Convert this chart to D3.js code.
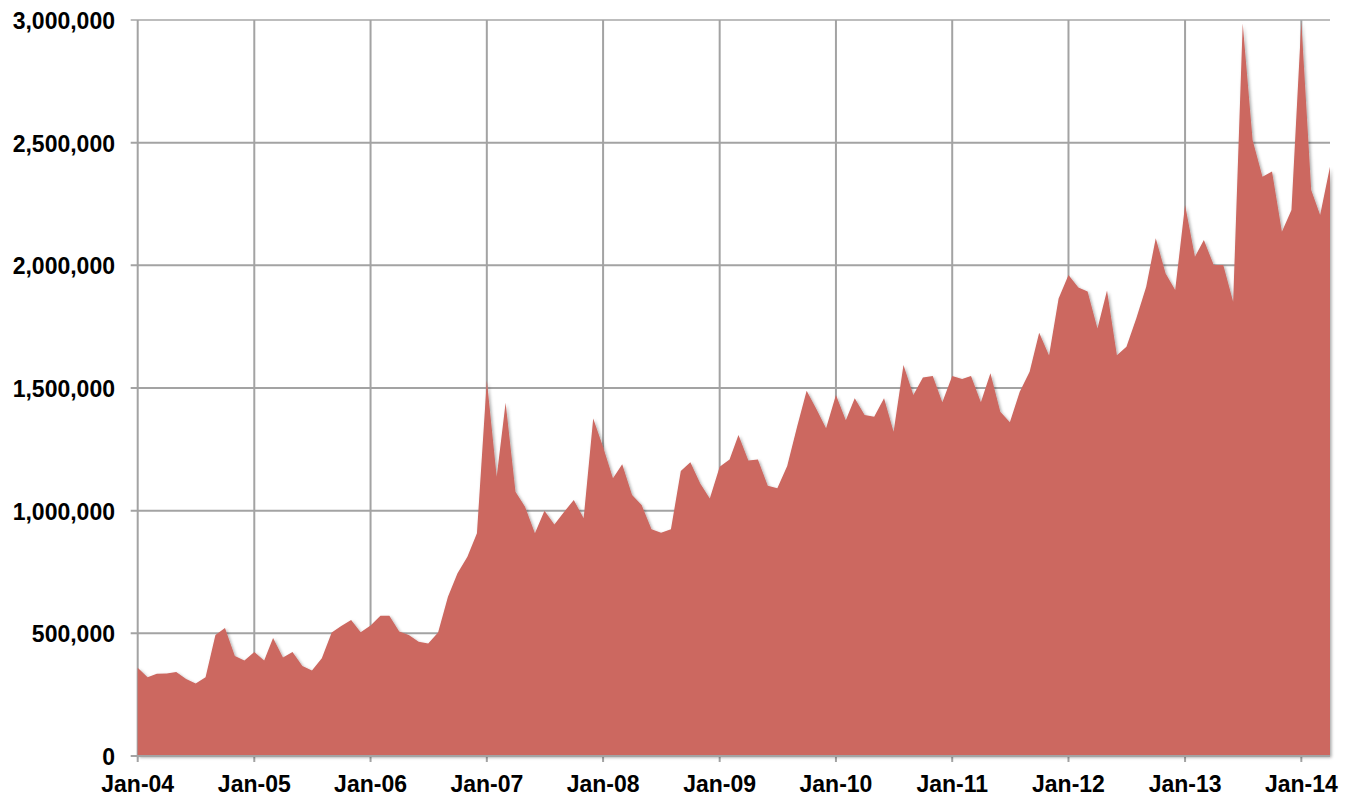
<!DOCTYPE html>
<html>
<head>
<meta charset="utf-8">
<script src="https://cdn.jsdelivr.net/npm/d3@7"></script>
<style>
  body { margin: 0; background: #fff; }
  svg text { font-family: "Liberation Sans", Arial, sans-serif; font-weight: bold; fill: #000; }
</style>
</head>
<body>
<svg id="chart"></svg>
<script>
// monthly values, Jan-04 .. Apr-14
var startMonth = new Date(2004, 0, 1);
var values = [
  360000, 321000, 335000, 336000, 342000, 314000, 296000, 321000, 493000, 522000, 408000, 389000,
  424000, 389000, 481000, 402000, 424000, 367000, 348000, 398000, 503000, 530000, 554000, 504000,
  532000, 572000, 572000, 507000, 493000, 466000, 459000, 503000, 649000, 745000, 812000, 908000,
  1532000, 1138000, 1440000, 1077000, 1016000, 908000, 1000000, 944000, 996000, 1043000, 969000, 1376000,
  1260000, 1132000, 1189000, 1064000, 1023000, 924000, 910000, 924000, 1162000, 1197000, 1111000, 1050000,
  1179000, 1209000, 1308000, 1204000, 1209000, 1102000, 1091000, 1182000, 1342000, 1489000, 1413000, 1336000,
  1471000, 1369000, 1458000, 1390000, 1383000, 1458000, 1322000, 1594000, 1471000, 1543000, 1549000, 1442000,
  1549000, 1537000, 1549000, 1442000, 1560000, 1403000, 1360000, 1485000, 1566000, 1725000, 1632000, 1865000,
  1961000, 1910000, 1893000, 1743000, 1897000, 1634000, 1668000, 1784000, 1913000, 2110000, 1967000, 1899000,
  2246000, 2035000, 2103000, 2001000, 2001000, 1852000, 2986000, 2511000, 2361000, 2382000, 2137000, 2226000,
  2993000, 2307000, 2205000, 2402000
];
var yTicks = [0, 500000, 1000000, 1500000, 2000000, 2500000, 3000000];
var xTicks = ["2004-01-01", "2005-01-01", "2006-01-01", "2007-01-01", "2008-01-01", "2009-01-01",
              "2010-01-01", "2011-01-01", "2012-01-01", "2013-01-01", "2014-01-01"];

var width = 1353, height = 798;
var margin = { top: 20, right: 23, bottom: 42, left: 137.7 };

var data = values.map(function(v, i) {
  return { date: d3.timeMonth.offset(startMonth, i), value: v };
});
var tickDates = xTicks.map(function(s) { return d3.timeParse("%Y-%m-%d")(s); });

var xScale = d3.scaleTime()
    .domain([data[0].date, data[data.length - 1].date])
    .range([margin.left, width - margin.right]);
var yScale = d3.scaleLinear()
    .domain([0, 3000000])
    .range([height - margin.bottom, margin.top]);

var svg = d3.select("#chart")
    .attr("width", width)
    .attr("height", height);

var defs = svg.append("defs");
var shadow = defs.append("filter").attr("id", "shade")
    .attr("x", "-5%").attr("y", "-5%").attr("width", "110%").attr("height", "110%");
shadow.append("feDropShadow")
    .attr("dx", 1.5).attr("dy", 1.5).attr("stdDeviation", 1.5)
    .attr("flood-color", "#000").attr("flood-opacity", 0.35);

var gridColor = "#a3a3a3";

// horizontal grid
svg.append("g")
  .selectAll("line")
    .data(yTicks.filter(function(d) { return d > 0; }))
  .enter().append("line")
    .attr("x1", margin.left - 7)
    .attr("x2", width - margin.right)
    .attr("y1", function(d) { return yScale(d); })
    .attr("y2", function(d) { return yScale(d); })
    .attr("stroke", function(d) { return d == 3000000 ? "#bdbdbd" : gridColor; })
    .attr("stroke-width", 2);

// vertical grid
svg.append("g")
  .selectAll("line")
    .data(tickDates)
  .enter().append("line")
    .attr("x1", function(d) { return xScale(d); })
    .attr("x2", function(d) { return xScale(d); })
    .attr("y1", margin.top)
    .attr("y2", height - margin.bottom + 6)
    .attr("stroke", gridColor)
    .attr("stroke-width", 2);

// area
var area = d3.area()
    .x(function(d) { return xScale(d.date); })
    .y0(yScale(0))
    .y1(function(d) { return yScale(d.value); });

svg.append("path")
    .datum(data)
    .attr("d", area)
    .attr("fill", "#cc6760")
    .attr("filter", "url(#shade)");

// bottom axis line
svg.append("line")
    .attr("x1", margin.left - 7)
    .attr("x2", width - margin.right)
    .attr("y1", yScale(0))
    .attr("y2", yScale(0))
    .attr("stroke", gridColor)
    .attr("stroke-width", 2);

// y labels
svg.append("g")
  .selectAll("text")
    .data(yTicks)
  .enter().append("text")
    .attr("x", 115)
    .attr("y", function(d) { return yScale(d) + 9; })
    .attr("text-anchor", "end")
    .style("font-size", "23px")
    .text(d3.format(","));

// x labels
svg.append("g")
  .selectAll("text")
    .data(tickDates)
  .enter().append("text")
    .attr("x", function(d) { return xScale(d); })
    .attr("y", 792)
    .attr("text-anchor", "middle")
    .style("font-size", "23px")
    .text(d3.timeFormat("%b-%y"));
</script>
</body>
</html>
